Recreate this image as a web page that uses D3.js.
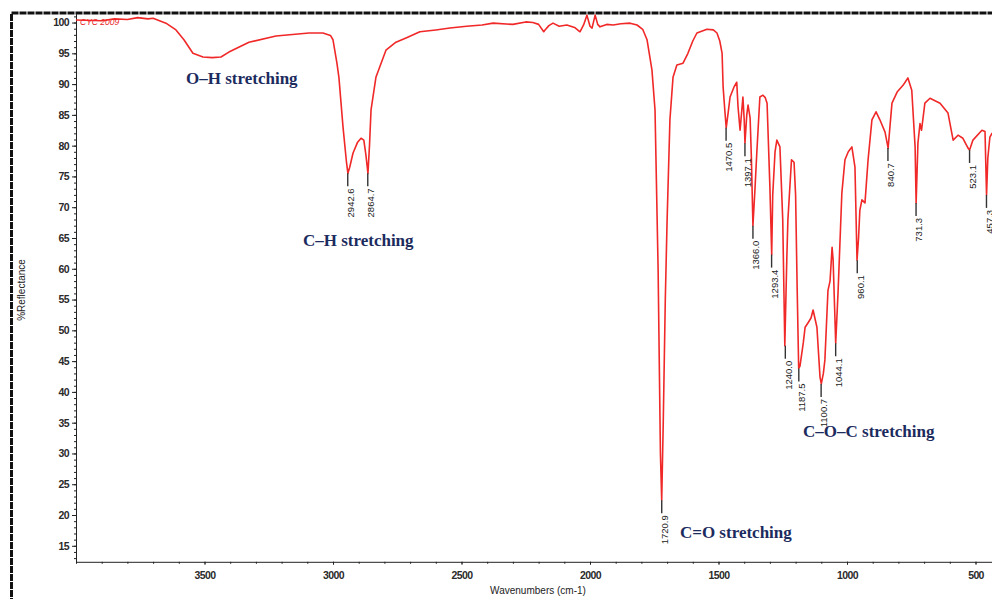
<!DOCTYPE html>
<html>
<head>
<meta charset="utf-8">
<script src="https://cdn.jsdelivr.net/npm/d3@7"></script>
<style>
  body { margin: 0; background: #fff; }
  svg { display: block; }
</style>
</head>
<body>
<svg width="992" height="599"></svg>
<script>
// spectrum: wavenumber (cm-1) and %Reflectance
let wavenumbers = [4000,3900,3850,3800,3760,3720,3700,3650,3611,3580,3545,3506,3470,3436,3405,3327,3222,3093,3039,3010,3000,2985,2977,2961,2948,2942,2935,2922,2905,2891,2880,2872,2864,2858,2852,2833,2794,2755,2716,2662,2600,2545,2480,2420,2377,2300,2250,2222,2200,2180,2175,2160,2144,2120,2090,2060,2039,2025,2012,2000,1992,1980,1970,1961,1935,1910,1880,1844,1817,1795,1778,1759,1747,1735,1726,1721,1715,1707,1700,1689,1677,1662,1638,1619,1600,1584,1545,1520,1506,1495,1486,1482,1475,1470,1462,1455,1440,1429,1424,1416,1405,1400,1397,1390,1385,1377,1372,1366,1358,1351,1339,1327,1318,1311,1300,1293,1289,1280,1273,1261,1250,1242,1234,1230,1216,1206,1200,1194,1188,1183,1170,1163,1152,1140,1132,1117,1105,1100,1092,1086,1074,1066,1058,1054,1047,1044,1035,1020,1008,995,981,969,961,955,950,942,930,918,903,887,872,852,840,825,805,782,763,748,735,731,724,716,710,697,677,638,607,587,568,549,529,523,510,475,463,457,452,444,436,420]
let reflectance = [100.4,100.3,100.6,100.5,100.8,100.6,100.7,99.9,98.8,97.2,95.0,94.4,94.3,94.4,95.2,96.8,97.8,98.3,98.3,97.9,97.2,93.5,91.1,83.0,77.5,75.5,76.5,78.8,80.5,81.2,80.9,78.5,75.5,80.0,85.8,91.1,95.5,96.8,97.5,98.5,98.8,99.1,99.4,99.6,99.9,99.7,100.1,100.0,99.7,98.5,98.8,99.5,99.9,99.4,99.6,99.2,98.5,99.6,101.2,99.4,99.1,101.2,99.7,99.3,99.7,99.6,99.8,99.9,99.6,98.9,97.2,92.3,85.8,60,30,22.4,35,55,67.9,84.2,91.1,93.1,93.4,95.0,97.0,98.3,98.9,98.8,98.3,97,95.0,89.5,85.5,82.9,85.5,87.9,89.5,90.3,86.3,82.5,87.9,84.2,80.4,85,86.6,84.5,78,67.0,73,78.8,87.9,88.2,87.8,86.9,73.3,62.3,72,79,80.9,79.8,67.9,47.5,62,67.9,77.7,77.3,72,57,43.8,44.2,48,50.5,51.2,52,53.3,50.5,42.4,41.3,43,45.2,56.5,58,63.5,61.4,52,47.9,56,72.3,77.7,79,79.8,76.5,61.4,65,69.5,71.2,70.7,77.7,84.2,85.5,84.2,82.2,79.6,86.9,88.7,89.8,91,89,79.8,70.7,80.4,83.6,82.5,86.9,87.7,86.9,85.3,80.9,81.7,81.2,79.6,79.3,80.9,82.5,82.3,72.0,78,81.4,82,82]

// peak labels
let peak_wn = [2942.6,2864.7,1720.9,1470.5,1397.1,1366.0,1293.4,1240.0,1187.5,1100.7,1044.1,960.1,840.7,731.3,523.1,457.3]
let peak_val = [75.5,75.5,22.4,82.9,80.4,67.0,62.3,47.5,43.8,41.3,47.9,61.4,79.6,70.7,79.3,72.0]

// band assignments (text start wavenumber, baseline value)
let band_text = ["O\u2013H stretching","C\u2013H stretching","C=O stretching","C\u2013O\u2013C stretching"]
let band_wn = [3572,3117,1650,1171]
let band_val = [90.0,63.7,16.3,32.7]

let x_ticks = [3500,3000,2500,2000,1500,1000,500]
let x_minor = d3.range(4000,399,-100)
let y_ticks = d3.range(15,101,5)
let y_minor = d3.range(13,102,1)

let svg = d3.select("svg")

// frame
svg.append("rect")
  .attr("x", 11.5).attr("y", 13)
  .attr("width", 1000).attr("height", 600)
  .attr("fill", "none")
  .attr("stroke", "#111")
  .attr("stroke-width", 3)
  .attr("stroke-dasharray", "7,1")

let x = d3.scaleLinear().domain([4000, 400]).range([76, 1001.2])
let y = d3.scaleLinear().domain([12.4, 101.5]).range([561.8, 13.3])

// minor ticks
svg.append("g")
  .attr("transform", "translate(0,561.8)")
  .call(d3.axisBottom(x).tickValues(x_minor).tickSize(2).tickFormat(""))
  .call(g => g.select(".domain").remove())
svg.append("g")
  .attr("transform", "translate(76,0)")
  .call(d3.axisLeft(y).tickValues(y_minor).tickSize(2).tickFormat(""))
  .call(g => g.select(".domain").remove())

let xaxis = svg.append("g")
  .attr("transform", "translate(0,561.8)")
  .call(d3.axisBottom(x).tickValues(x_ticks).tickFormat(d3.format("d")).tickSize(3).tickPadding(7).tickSizeOuter(0))
let yaxis = svg.append("g")
  .attr("transform", "translate(76,0)")
  .call(d3.axisLeft(y).tickValues(y_ticks).tickSize(4).tickPadding(3).tickSizeOuter(0))

svg.selectAll(".tick line").attr("stroke", "#222")
svg.selectAll(".domain").attr("stroke", "#222")
svg.selectAll(".tick text")
  .attr("font-family", "Liberation Sans, Arial, sans-serif")
  .attr("font-size", 10.5)
  .attr("font-weight", "bold")
  .attr("fill", "#2a2a2a")
  .attr("letter-spacing", -0.6)

// axis titles
svg.append("text")
  .attr("x", 538).attr("y", 594)
  .attr("text-anchor", "middle")
  .attr("font-family", "Liberation Sans, Arial, sans-serif")
  .attr("font-size", 10)
  .attr("fill", "#222")
  .text("Wavenumbers (cm-1)")
svg.append("text")
  .attr("transform", "translate(25,290) rotate(-90)")
  .attr("text-anchor", "middle")
  .attr("font-family", "Liberation Sans, Arial, sans-serif")
  .attr("font-size", 10)
  .attr("fill", "#222")
  .text("%Reflectance")

// spectrum name
svg.append("text")
  .attr("x", 80).attr("y", 25)
  .attr("font-family", "Liberation Sans, Arial, sans-serif")
  .attr("font-size", 8.5)
  .attr("font-style", "italic")
  .attr("fill", "#e8262a")
  .text("CYC 2009")

// spectrum line
let spectrum = d3.zip(wavenumbers, reflectance)
let line = d3.line().x(d => x(d[0])).y(d => y(d[1]))
svg.append("path")
  .datum(spectrum)
  .attr("d", line)
  .attr("fill", "none")
  .attr("stroke", "#f02828")
  .attr("stroke-width", 1.6)
  .attr("stroke-linejoin", "round")

// peak labels with leader lines
let peaks = d3.zip(peak_wn, peak_val)
svg.append("g").selectAll("line")
  .data(peaks)
  .join("line")
  .attr("x1", d => x(d[0])).attr("x2", d => x(d[0]))
  .attr("y1", d => y(d[1]))
  .attr("y2", d => y(d[1]) + 13)
  .attr("stroke", "#333")
  .attr("stroke-width", 1.4)
svg.append("g").selectAll("text")
  .data(peaks)
  .join("text")
  .attr("transform", d => "translate(" + (x(d[0]) + 3) + "," + (y(d[1]) + 15) + ") rotate(-90)")
  .attr("text-anchor", "end")
  .attr("dy", "0.35em")
  .attr("font-family", "Liberation Sans, Arial, sans-serif")
  .attr("font-size", 9.5)
  .attr("fill", "#222")
  .text(d => d[0].toFixed(1))

// band annotations
svg.append("g").selectAll("text")
  .data(d3.zip(band_text, band_wn, band_val))
  .join("text")
  .attr("x", d => x(d[1]))
  .attr("y", d => y(d[2]))
  .attr("font-family", "Liberation Serif, 'Times New Roman', serif")
  .attr("font-size", 17)
  .attr("font-weight", "bold")
  .attr("fill", "#1c2b5e")
  .text(d => d[0])
</script>
</body>
</html>
